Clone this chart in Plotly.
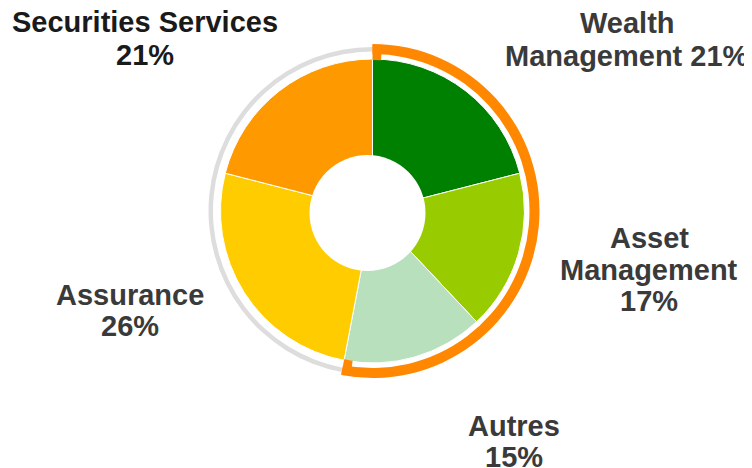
import plotly.graph_objects as go

# ---- data ----
segments = ["Wealth Management", "Asset Management", "Autres", "Assurance", "Securities Services"]
shares = [21, 17, 15, 26, 21]
label_templates = [
    "Wealth<br>Management {p}%",
    "Asset<br>Management<br>{p}%",
    "Autres<br>{p}%",
    "Assurance<br>{p}%",
    "Securities Services<br>{p}%",
]
highlight_count = 3  # first three segments are highlighted by the orange arc

# ---- style ----
segment_colors = ["#008000", "#99CC00", "#B9E0BC", "#FFCC00", "#FF9900"]
ring_orange = "#FF8800"
ring_grey = "#DDDDDD"
label_colors = ["#3a3a3a", "#3a3a3a", "#3a3a3a", "#3a3a3a", "#1a1a1a"]
# page offset (browser default body margin)
OFF = 8
# label placement in screen px: (centre x, first-line centre y, line spacing)
label_pos = [(627, 24, 33), (649, 239, 31.5), (514, 427, 31), (130, 296, 31), (145, 23, 33)]

W, H = 752, 468
cx, cy = 372.5 - OFF, 211 - OFF
R = 152
hole_c = (367.5 - OFF, 213 - OFF)
hole_r = 58
TAB = 0.9  # width of the small end tabs of the orange arc, in share units


def dom(r, c=None):
    x0, y0 = c if c else (cx, cy)
    return dict(x=[(x0 - r) / W, (x0 + r) / W], y=[1 - (y0 + r) / H, 1 - (y0 - r) / H])


hi = sum(shares[:highlight_count])
lo = sum(shares[highlight_count:])
clear = "rgba(0,0,0,0)"

fig = go.Figure()
# grey outer ring (rest)
fig.add_trace(go.Pie(
    values=[hi, lo], sort=False, direction="clockwise", rotation=0,
    marker=dict(colors=[clear, ring_grey], line=dict(width=0)),
    hole=159.5 / 164, domain=dom(164), textinfo="none", hoverinfo="skip", showlegend=False,
))
# orange outer ring (highlight)
fig.add_trace(go.Pie(
    values=[hi, lo], sort=False, direction="clockwise", rotation=0,
    marker=dict(colors=[ring_orange, clear], line=dict(width=0)),
    hole=157 / 167, domain=dom(167), textinfo="none", hoverinfo="skip", showlegend=False,
))
# main donut
fig.add_trace(go.Pie(
    labels=segments, values=shares, sort=False, direction="clockwise", rotation=0,
    marker=dict(colors=segment_colors, line=dict(color="white", width=1)),
    hole=45 / R, domain=dom(R), textinfo="none", showlegend=False,
))
# white centre disc (slightly off-centre, as in the source)
fig.add_trace(go.Pie(
    values=[1], marker=dict(colors=["white"], line=dict(width=0)),
    domain=dom(hole_r, hole_c), textinfo="none", hoverinfo="skip", showlegend=False,
))
# end tabs of the orange arc
fig.add_trace(go.Pie(
    values=[TAB, hi - 2 * TAB, TAB, lo], sort=False, direction="clockwise", rotation=0,
    marker=dict(colors=[ring_orange, clear, ring_orange, clear], line=dict(width=0)),
    hole=151 / 166, domain=dom(166), textinfo="none", hoverinfo="skip", showlegend=False,
))

annotations = []
for tmpl, share, col, (lx, ly, dy) in zip(label_templates, shares, label_colors, label_pos):
    for i, line in enumerate(tmpl.format(p=share).split("<br>")):
        annotations.append(dict(
            text="<b>" + line + "</b>", x=(lx - OFF) / W, y=1 - (ly - OFF - 1 + i * dy) / H,
            xref="paper", yref="paper", xanchor="center", yanchor="middle",
            showarrow=False, font=dict(family="Liberation Sans, Arial", size=29, color=col),
        ))

fig.update_layout(
    width=W, height=H, margin=dict(l=0, r=0, t=0, b=0),
    paper_bgcolor="white", plot_bgcolor="white", annotations=annotations,
)
fig.write_html("out.html")
